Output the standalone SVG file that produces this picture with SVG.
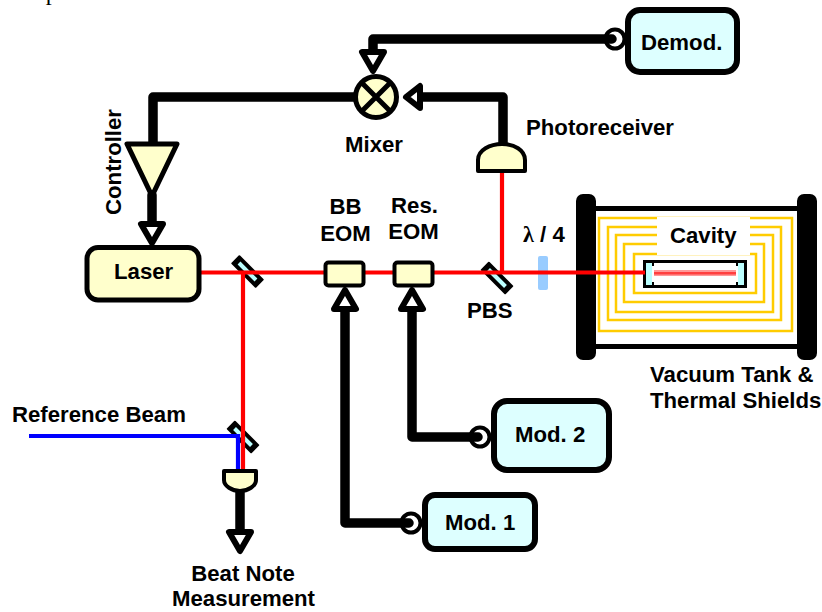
<svg xmlns="http://www.w3.org/2000/svg" width="822" height="612" viewBox="0 0 822 612">
<style>
text{font-family:"Liberation Sans",Arial,sans-serif;font-weight:bold;font-size:22.2px;fill:#000}
.box{stroke:#000;stroke-width:6}
.cy{fill:#ddffff}.yl{fill:#ffffcc}
.sig{fill:none;stroke:#000;stroke-width:9.500;stroke-linejoin:round;stroke-linecap:round}
.red{fill:none;stroke:#ff0000;stroke-width:4.200}
.blue{fill:none;stroke:#0000ff;stroke-width:4.200}
.shield{fill:none;stroke:#ffcc00;stroke-width:2.500}
.cpl{fill:#fff;stroke:#000;stroke-width:4}
.flange{fill:#000;stroke:#000;stroke-width:2}
.det{fill:#ffffcc;stroke:#000;stroke-width:4;stroke-linejoin:round}
</style>
<defs>
<marker id="arr" markerUnits="userSpaceOnUse" markerWidth="34" markerHeight="34" refX="4" refY="15" orient="auto" viewBox="0 0 34 34">
<path d="M4 4L23 15L4 26Z" fill="#fff" stroke="#000" stroke-width="6" stroke-linejoin="round"/>
</marker>
<marker id="arrs" markerUnits="userSpaceOnUse" markerWidth="34" markerHeight="34" refX="4" refY="15" orient="auto" viewBox="0 0 34 34">
<path d="M4 4L18 15L4 26Z" fill="#fff" stroke="#000" stroke-width="6" stroke-linejoin="round"/>
</marker>
<g id="mirror"><rect x="-17.500" y="-6" width="35" height="12" rx="1" fill="#000"/><rect x="-12" y="-2" width="24" height="4" fill="#bbffff"/></g>
</defs>
<text x="3" y="0" style="font-family:'Liberation Serif',serif;font-weight:normal;font-size:24px">Setup:</text>

<g id="tank">
<rect x="595" y="206" width="203" height="5" fill="#000"/>
<rect x="595" y="344" width="203" height="5" fill="#000"/>
<rect class="flange" x="577" y="195" width="18" height="164" rx="6"/>
<rect class="flange" x="798" y="195" width="18" height="164" rx="6"/>
<rect class="shield" x="599" y="218" width="193" height="113"/>
<rect class="shield" x="608" y="227" width="173" height="93"/>
<rect class="shield" x="616" y="235" width="157" height="77"/>
<rect class="shield" x="624" y="244" width="140" height="58"/>
<rect class="shield" x="634" y="254" width="122" height="39"/>
<rect x="657" y="217" width="93" height="38" fill="#fff"/>
<text x="670" y="243">Cavity</text>
</g>
<g id="cavity">
<rect x="644.500" y="261.500" width="101" height="25" fill="#fff" stroke="#000" stroke-width="3"/>
<rect x="646" y="263" width="6" height="22" fill="#bbffff"/>
<rect x="738" y="263" width="6" height="22" fill="#bbffff"/>
<rect x="652" y="263" width="2" height="3" fill="#000"/><rect x="652" y="282" width="2" height="3" fill="#000"/>
<rect x="736" y="263" width="2" height="3" fill="#000"/><rect x="736" y="282" width="2" height="3" fill="#000"/>
<rect x="654" y="270" width="82" height="6" fill="#ff9999"/>
<rect x="654" y="272" width="82" height="2.500" fill="#ff4040"/>
</g>
<g id="mirror-1"><use href="#mirror" transform="translate(247.500 271.500) rotate(45)"/></g>
<g id="mirror-pbs"><use href="#mirror" transform="translate(497 278) rotate(45)"/></g>
<g id="mirror-ref"><use href="#mirror" transform="translate(243 437) rotate(45)"/></g>
<g id="waveplate"><rect x="538" y="256" width="10" height="34" rx="2" fill="#99ccff"/></g>

<g id="demod">
<rect class="box cy" x="628" y="10" width="109" height="62" rx="12"/>
<circle class="cpl" cx="615" cy="39" r="9.500"/>
<text x="641" y="50">Demod.</text>
</g>
<g id="mod2">
<rect class="box cy" x="494" y="401" width="115" height="69" rx="13"/>
<circle class="cpl" cx="480" cy="437" r="9.500"/>
<text x="515" y="442">Mod. 2</text>
</g>
<g id="mod1">
<rect class="box cy" x="425" y="495" width="110" height="54" rx="10"/>
<circle class="cpl" cx="411" cy="523" r="9.500"/>
<text x="445" y="530">Mod. 1</text>
</g>

<g id="connectors">
<path class="red" d="M201 272.500H645"/>
<path class="red" d="M243 272V470"/>
<path class="red" d="M502 272V172"/>
<path class="blue" d="M29 436H238V470"/>
<path class="sig" d="M612 39H373V52" marker-end="url(#arr)"/>
<path class="sig" d="M503 145V97H420" marker-end="url(#arrs)"/>
<path class="sig" d="M356 97H153V145"/>
<path class="sig" d="M152 195V224" marker-end="url(#arr)"/>
<path class="sig" d="M478 437H412V309" marker-end="url(#arr)"/>
<path class="sig" d="M409 523H345V309" marker-end="url(#arr)"/>
<path class="sig" d="M240 490V532" marker-end="url(#arr)"/>
</g>

<g id="mixer">
<circle cx="376" cy="97" r="20.500" fill="#ffffcc" stroke="#000" stroke-width="5"/>
<path d="M362 83L390 111M390 83L362 111" stroke="#000" stroke-width="5"/>
<text x="345" y="152">Mixer</text>
</g>
<g id="photoreceiver">
<path class="det" d="M478 171V160C478 150 490 144 502 144C514 144 525 150 525 160V171Z"/>
<text x="526" y="135">Photoreceiver</text>
</g>
<g id="controller">
<path d="M127 144H177L152 196Z" fill="#ffffcc" stroke="#000" stroke-width="5" stroke-linejoin="round"/>
<text transform="translate(121 215) rotate(-90)">Controller</text>
</g>
<g id="laser">
<rect class="yl" x="87" y="247.500" width="112" height="52.500" rx="11" stroke="#000" stroke-width="5"/>
<text x="114" y="279">Laser</text>
</g>
<g id="bb-eom">
<rect class="yl" x="325.500" y="262.500" width="38" height="23" rx="3" stroke="#000" stroke-width="4"/>
<text x="345.500" y="214" text-anchor="middle">BB</text>
<text x="345.500" y="241" text-anchor="middle">EOM</text>
</g>
<g id="res-eom">
<rect class="yl" x="394.500" y="262.500" width="38" height="23" rx="3" stroke="#000" stroke-width="4"/>
<text x="414.500" y="213" text-anchor="middle">Res.</text>
<text x="413.500" y="239" text-anchor="middle">EOM</text>
</g>
<g id="beat-detector">
<path class="det" d="M224 471H256V480C256 486 248 491 240 491C232 491 224 486 224 480Z"/>
<text x="243" y="581" text-anchor="middle">Beat Note</text>
<text x="243.500" y="606" text-anchor="middle">Measurement</text>
</g>
<text x="523" y="242"><tspan style="font-family:'Liberation Serif',serif">λ</tspan> / 4</text>
<text x="467" y="318">PBS</text>
<text x="650" y="382">Vacuum Tank &amp;</text>
<text x="650" y="408">Thermal Shields</text>
<text x="12" y="422">Reference Beam</text>
</svg>
